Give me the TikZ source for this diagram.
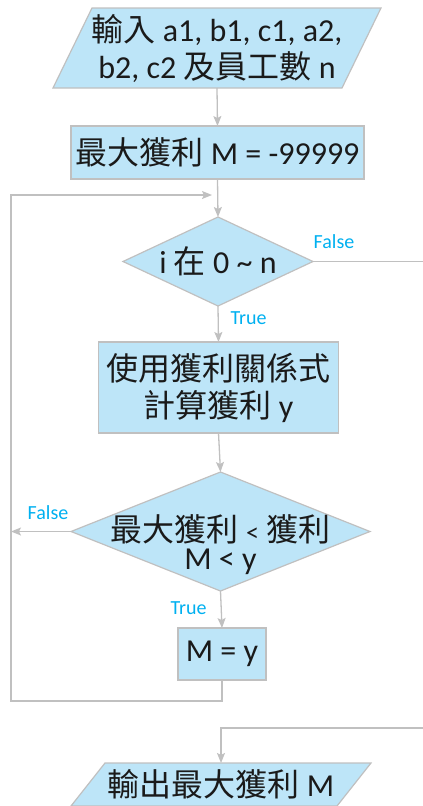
\documentclass[tikz,border=0pt]{standalone}
\usepackage{fontspec}
\setmainfont{Carlito}
\newfontfamily\cjk{Noto Sans CJK TC}
\usetikzlibrary{shapes.geometric,arrows.meta}
\pgfdeclarelayer{bg}
\pgfsetlayers{bg,main}
\newcommand\zh[1]{{\cjk #1}}
\newcommand\lowline[1]{\makebox[0pt]{\raisebox{-23.5pt}[0pt][0pt]{#1}}}
\definecolor{boxfill}{RGB}{189,229,248}
\definecolor{boxline}{RGB}{192,192,192}
\definecolor{lbl}{RGB}{0,176,240}
\definecolor{txt}{RGB}{26,26,26}
\begin{document}
\begin{tikzpicture}[x=1pt,y=-1pt,
  base/.style={fill=boxfill, draw=boxline, line width=1.2pt, inner sep=0pt, outer sep=0pt,
    font=\fontsize{32}{37}\selectfont, text=txt, align=center},
  procbox/.style={base, rectangle},
  decision/.style={base, diamond},
  iotext/.style={rectangle, inner sep=0pt, outer sep=0pt, font=\fontsize{32}{37}\selectfont, text=txt, align=center},
  iopara/.style={fill=boxfill, draw=boxline, line width=1.2pt},
  conn/.style={boxline, line width=1.3pt},
  arr/.style={conn, -{Stealth[length=10pt,width=8pt,inset=2pt]}},
  lab/.style={text=lbl, font=\fontsize{20}{24}\selectfont, inner sep=0pt}
]
\useasboundingbox (0,0) rectangle (423,806);

% nodes
\node[iotext, minimum width=328pt, minimum height=80pt] (in) at (217,48)
  {\zh{輸入} a1, b1, c1, a2,\\ b2, c2 \zh{及員工數} n};
\node[procbox, minimum width=293pt, minimum height=53pt] (init) at (217.5,152.5)
  {\zh{最大獲利} M = -99999};
\node[decision, minimum width=190pt, minimum height=89pt] (d1) at (218,261.5)
  {\makebox[0pt]{i \zh{在} 0 \textasciitilde{} n}};
\node[procbox, minimum width=240pt, minimum height=91pt] (calc) at (218.5,387.5)
  {\zh{使用獲利關係式}\\\zh{計算獲利} y};
\node[decision, minimum width=299pt, minimum height=119pt, font=\fontsize{32}{28}\selectfont] (d2) at (220.5,531.5)
  {\lowline{\zh{最大獲利} {\fontsize{26}{28}\selectfont<} \zh{獲利}}\\\lowline{M < y}};
\node[procbox, minimum width=88pt, minimum height=52pt] (upd) at (222,654) {M = y};
\node[iotext, minimum width=300pt, minimum height=43pt] (out) at (221,784.5)
  {\zh{輸出最大獲利} M};

\begin{pgfonlayer}{bg}
  \path[iopara] (in.south west) -- ([xshift=39pt]in.north west) -- (in.north east)
    -- ([xshift=-39pt]in.south east) -- cycle;
  \path[iopara] (out.south west) -- ([xshift=34pt]out.north west) -- (out.north east)
    -- ([xshift=-34pt]out.south east) -- cycle;
\end{pgfonlayer}

% labels
\node[lab] (f1) at (334,242) {False};
\node[lab] (t1) at (248.5,318) {True};
\node[lab] (f2) at (48,513) {False};
\node[lab] (t2) at (188.5,608) {True};

% helper coordinates
\coordinate (lb) at (11,701);
\coordinate (lt) at (11,195);
\coordinate (jn) at (212,195);
\coordinate (rr) at (440,728);

% connectors
\draw[arr] (in.south) -- (init.north);
\draw[arr] (init.south) -- (d1.north);
\draw[arr] (d1.south) -- (calc.north);
\draw[arr] (calc.south) -- (d2.north);
\draw[arr] (d2.south) -- (upd.north);
\draw[arr] (upd.south) |- (lb) -- (lt) -- (jn);
\draw[arr] (d2.west) -- (d2.west -| lb);
\draw[arr] (d1.east) -| (rr) -| (out.north);
\end{tikzpicture}
\end{document}
